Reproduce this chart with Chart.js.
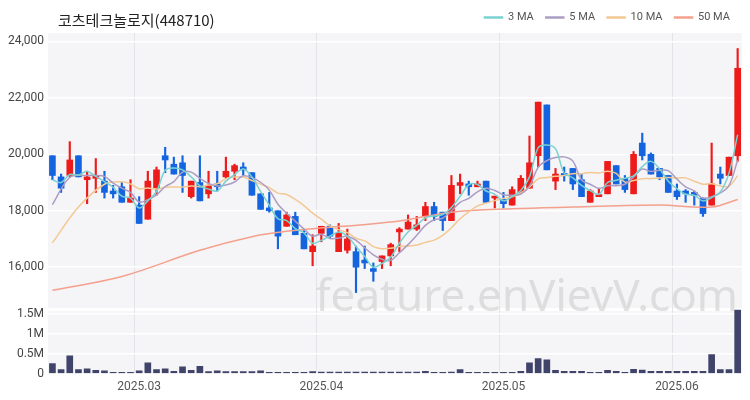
<!DOCTYPE html>
<html>
<head>
<meta charset="utf-8">
<script src="https://cdn.jsdelivr.net/npm/chart.js@4.4.1/dist/chart.umd.min.js"></script>
<style>
  body { margin: 0; background: #fff; }
  #wrap { width: 750px; height: 400px; }
</style>
</head>
<body>
<div id="wrap"><canvas id="chart"></canvas></div>
<script>
// OHLC, one per trading day
const opens  = [19950,19200,19250,19950,19100,19150,19050,18700,18850,18300,18200,17700,18800,19950,19650,19700,18500,19000,18600,18950,
                19200,19400,19550,19350,18600,18100,18000,17450,17800,17200,16550,17200,17450,16550,16600,16550,16250,15950,16200,16400,
                17250,17350,17350,17800,18150,17950,17650,18900,18950,18850,19050,18450,18400,18200,18650,18800,19950,21750,19050,19300,
                19500,19100,18300,18500,18600,19600,19150,18600,20400,20000,19500,19250,18700,18700,18650,18450,18200,19300,19250,19950];
const highs  = [19950,19300,20450,19950,19400,19850,19400,18900,19000,19100,18500,19400,19550,20250,19900,19950,19050,19950,19400,19400,
                19900,19650,19700,19350,18600,18650,18000,17950,17950,17300,17150,17450,17500,17550,17350,16750,16750,16150,16400,16850,
                17400,17850,17800,18300,18300,17950,19250,19300,19050,19050,19050,18500,18650,18850,19250,20650,21850,21750,19500,19550,
                19500,19300,18750,18800,19750,19600,19250,20100,20750,20050,19500,19250,18950,18750,18700,18450,20400,19550,19900,23750];
const lows   = [19100,18650,19200,19200,18250,18650,18450,18450,18300,18300,17550,17700,18550,19350,19300,18650,18450,18350,18450,18700,
                19150,19100,19250,18550,18050,17950,16650,17450,17150,16650,16050,16900,17050,16550,16500,15100,15950,15500,15950,16050,
                16550,17350,17300,17650,17650,17300,17650,18600,18550,18850,18300,18100,18100,18200,18600,18800,19550,19450,18750,19050,
                18750,18500,18300,18500,18600,18950,18650,18600,19800,19300,19100,18650,18400,18300,18200,17800,18200,18950,19250,19750];
const closes = [19250,18800,19800,19200,19200,19250,18650,18600,18300,18450,17550,19050,19450,19800,19300,19250,19050,18350,18900,18850,
                19400,19600,19450,18550,18050,18000,17100,17850,17150,16650,16750,17450,17100,17200,17000,16000,16150,15850,16400,16800,
                17350,17600,17500,18150,17800,17650,18900,19000,18850,18950,18300,18500,18250,18750,19150,19700,21850,19450,19300,19250,
                18950,18500,18700,18550,19750,18950,18750,20000,19950,19300,19200,18650,18500,18600,18550,17900,18950,19150,19900,23050];
const volumes = [0.25,0.10,0.45,0.10,0.12,0.08,0.07,0.03,0.03,0.03,0.07,0.27,0.10,0.12,0.06,0.17,0.08,0.18,0.05,0.07,
                 0.05,0.05,0.05,0.05,0.07,0.03,0.03,0.03,0.03,0.03,0.05,0.04,0.04,0.04,0.04,0.04,0.04,0.04,0.04,0.04,
                 0.04,0.04,0.04,0.06,0.03,0.03,0.04,0.10,0.03,0.03,0.03,0.03,0.03,0.03,0.06,0.27,0.38,0.35,0.08,0.06,
                 0.06,0.06,0.03,0.03,0.08,0.06,0.03,0.11,0.09,0.06,0.06,0.06,0.06,0.06,0.06,0.06,0.48,0.10,0.10,1.60];
// month tick labels by candle index
const monthTicks = { 10: '2025.03', 31: '2025.04', 52: '2025.05', 72: '2025.06' };

const ma3Early = [19100, 19000];
const ma5Early = [18220, null, 19180, null];
const ma10Early = [16860, null, null, 18130, null, null, 18940, null, 19030];
// 50 MA read at a few candles
const ma50Read = { 0: 15180, 8: 15670, 17: 16600, 23: 17080, 27: 17270, 40: 17640, 46: 17950, 53: 18070,
                   60: 18130, 70: 18200, 76: 18130, 79: 18400 };

const labels = closes.map((c, i) => monthTicks[i] || '');
const upColor = '#ee1b1b', downColor = '#1464e0';
const candleColors = closes.map((c, i) => c >= opens[i] ? upColor : downColor);

function movingAvg(n, early) {
    return closes.map((c, i) => {
        if (i < early.length) return early[i];
        if (i < n - 1) return null;
        let s = 0;
        for (let k = i - n + 1; k <= i; k++) s += closes[k];
        return s / n;
    });
}

const maLine = (label, data, color) => ({
    type: 'line', label, data, yAxisID: 'y',
    borderColor: color, backgroundColor: color, borderWidth: 1.5,
    pointRadius: 0, tension: 0.35, spanGaps: true, order: 0
});

const bgPlugin = {
    id: 'bg',
    beforeDraw(chart) {
        const ctx = chart.ctx, a = chart.chartArea;
        ctx.save();
        ctx.fillStyle = '#f5f5f7';
        ctx.fillRect(a.left, a.top, a.right - a.left, a.bottom - a.top);
        // thin white gap between price and volume panels
        const py = chart.scales.y.bottom;
        ctx.fillStyle = '#ffffff';
        ctx.fillRect(a.left, py, a.right - a.left, 3);
        ctx.restore();
    },
    afterDraw(chart) {
        const ctx = chart.ctx;
        ctx.save();
        ctx.fillStyle = '#222';
        ctx.font = '15px "Noto Sans CJK KR", "Noto Sans", sans-serif';
        ctx.textBaseline = 'middle';
        ctx.fillText('코츠테크놀로지(448710)', 58, 20);
        ctx.restore();
    }
};
const watermark = {
    id: 'wm',
    beforeDatasetsDraw(chart) {
        const ctx = chart.ctx;
        ctx.save();
        ctx.fillStyle = 'rgba(200,200,200,0.55)';
        ctx.font = '44px "Noto Sans", sans-serif';
        ctx.textAlign = 'right';
        ctx.textBaseline = 'middle';
        ctx.fillText('feature.enVievV.com', 738, 298);
        ctx.restore();
    }
};

const tickFont = { size: 12, family: 'Roboto, sans-serif' };

new Chart(document.getElementById('chart'), {
    data: {
        labels,
        datasets: [
            maLine('3 MA', movingAvg(3, ma3Early), '#79d2d0'),
            maLine('5 MA', movingAvg(5, ma5Early), '#ab9cc4'),
            maLine('10 MA', movingAvg(10, ma10Early), '#f3c892'),
            maLine('50 MA', closes.map((c, i) => ma50Read[i] ?? null), '#f4a08c'),
            {
                type: 'bar', label: 'wick', data: lows.map((l, i) => [l, highs[i]]), yAxisID: 'y',
                backgroundColor: candleColors, barThickness: 1.5, grouped: false, order: 2
            },
            {
                type: 'bar', label: 'body', data: opens.map((o, i) => [o, closes[i]]), yAxisID: 'y',
                backgroundColor: candleColors, barThickness: 6, grouped: false, order: 1,
                minBarLength: 2
            },
            {
                type: 'bar', label: 'vol', data: volumes.map(v => v * 1e6), yAxisID: 'yv',
                backgroundColor: '#40446a', barThickness: 6, grouped: false, order: 1
            }
        ]
    },
    options: {
        responsive: true,
        maintainAspectRatio: false,
        animation: false,
        layout: { padding: { top: 0, right: 8, left: 4 } },
        plugins: {
            tooltip: { enabled: false },
            legend: {
                position: 'top', align: 'end',
                labels: {
                    filter: item => item.text.includes('MA'),
                    boxWidth: 18, boxHeight: 1, color: '#555',
                    font: { size: 11, family: 'Roboto, sans-serif' }, padding: 12
                }
            }
        },
        scales: {
            x: {
                grid: { display: true, color: ctx => monthTicks[ctx.index] ? '#e4e4e8' : 'transparent', drawTicks: false },
                border: { display: false },
                ticks: { autoSkip: false, maxRotation: 0, color: '#555', font: tickFont, padding: 6 }
            },
            yv: {
                stack: 'p', stackWeight: 1, min: 0, max: 1650000,
                afterBuildTicks: s => { s.ticks = [0, 500000, 1000000, 1500000].map(v => ({ value: v })); },
                grid: { color: '#ffffff', lineWidth: 1.5, drawTicks: false },
                border: { display: false },
                ticks: { color: '#444', font: tickFont, padding: 4, autoSkip: false,
                         callback: v => v === 0 ? '0' : (v / 1e6) + 'M' }
            },
            y: {
                stack: 'p', stackWeight: 4.2, min: 14550, max: 24300,
                afterBuildTicks: s => { s.ticks = [16000, 18000, 20000, 22000, 24000].map(v => ({ value: v })); },
                grid: { color: '#ffffff', lineWidth: 1.5, drawTicks: false },
                border: { display: false },
                ticks: { color: '#444', font: tickFont, padding: 4,
                         callback: v => v.toLocaleString('en-US') }
            }
        }
    },
    plugins: [bgPlugin, watermark]
});
</script>
</body>
</html>
